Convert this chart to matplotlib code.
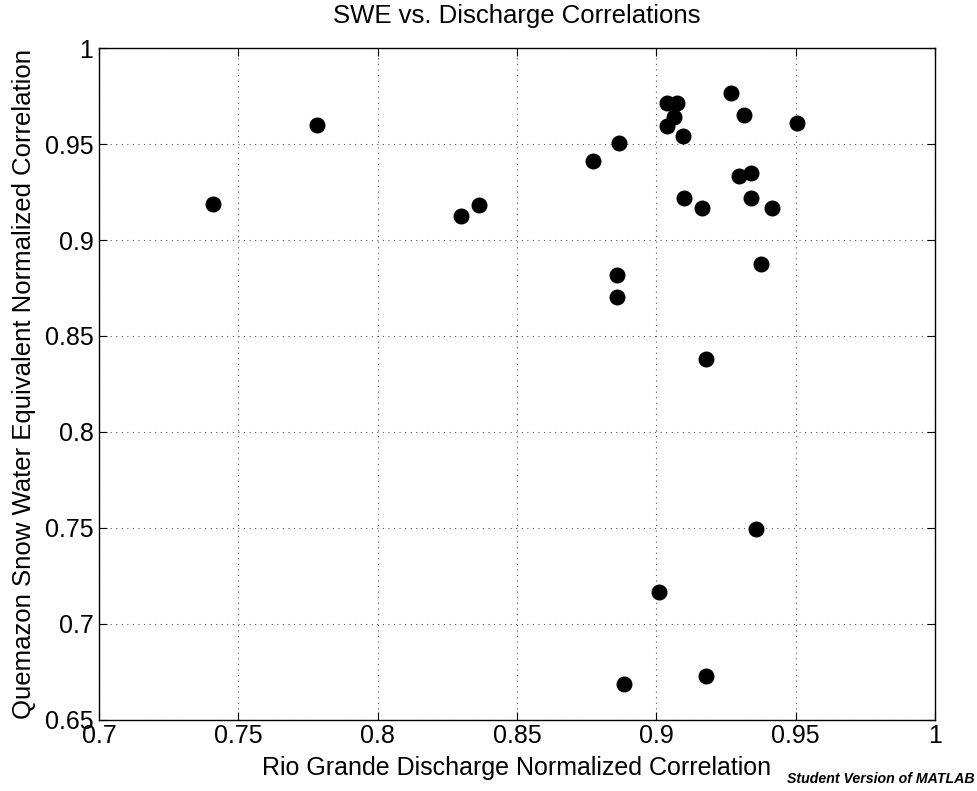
import numpy as np
import matplotlib
matplotlib.use("Agg")
import matplotlib.pyplot as plt

plt.rcParams['font.family'] = ['Liberation Sans', 'DejaVu Sans']

# Rio Grande discharge (x) vs Quemazon SWE (y) normalized correlations
discharge = [0.7410, 0.7781, 0.8298, 0.8364, 0.8774, 0.8867, 0.8858, 0.8860,
             0.8884, 0.9008, 0.9037, 0.9039, 0.9063, 0.9075, 0.9095, 0.9100,
             0.9165, 0.9177, 0.9179, 0.9267, 0.9297, 0.9315, 0.9338, 0.9340,
             0.9359, 0.9376, 0.9415, 0.9506]
swe = [0.9186, 0.9597, 0.9123, 0.9184, 0.9413, 0.9505, 0.8818, 0.8702,
       0.6689, 0.7165, 0.9595, 0.9715, 0.9639, 0.9715, 0.9543, 0.9220,
       0.9165, 0.8379, 0.6727, 0.9764, 0.9333, 0.9651, 0.9220, 0.9351,
       0.7497, 0.8875, 0.9165, 0.9608]

xticks = [0.7, 0.75, 0.8, 0.85, 0.9, 0.95, 1]
yticks = [0.65, 0.7, 0.75, 0.8, 0.85, 0.9, 0.95, 1]

fig = plt.figure(figsize=(9.77, 7.91), dpi=100)
ax = fig.add_axes([0.1013, 0.0898, 0.8557, 0.8495])

ax.plot(discharge, swe, 'o', color='black', markersize=10.5, linestyle='none')

ax.set_xlim(0.7, 1.0)
ax.set_ylim(0.65, 1.0)
ax.set_xticks(xticks)
ax.set_yticks(yticks)
ax.set_xticklabels([f"{t:g}" for t in xticks])
ax.set_yticklabels([f"{t:g}" for t in yticks])
ax.tick_params(direction='in', top=True, right=True, length=6, width=0.8,
               labelsize=18, pad=3)
ax.tick_params(axis='y', pad=4)
ax.grid(True, linestyle=(0, (1, 4)), color='#555555', linewidth=0.8)
for s in ax.spines.values():
    s.set_linewidth(1.0)

ax.set_title("SWE vs. Discharge Correlations", fontsize=18.5, pad=18)
ax.set_xlabel("Rio Grande Discharge Normalized Correlation", fontsize=18, labelpad=6)
ax.set_ylabel("Quemazon Snow Water Equivalent Normalized Correlation", fontsize=18.5, labelpad=6)

fig.text(0.998, 0.006, "Student Version of MATLAB", fontsize=10.2,
         fontweight='bold', fontstyle='italic', ha='right', va='bottom')

fig.savefig("out.png", dpi=100)
